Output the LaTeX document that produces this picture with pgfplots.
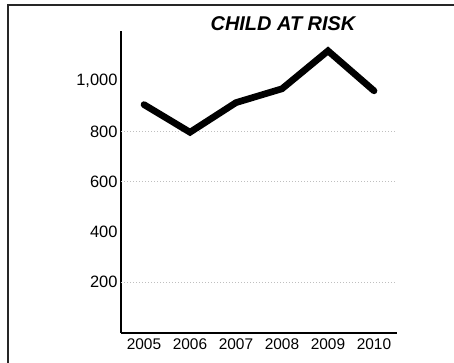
\documentclass[border=0pt]{standalone}
\usepackage{fontspec}
\setmainfont{Liberation Sans}
\usepackage{pgfplots}
\pgfplotsset{compat=1.18}
\begin{document}
\begin{tikzpicture}
\clip (0,0) rectangle (454bp,-363bp);
\fill[white] (0,0) rectangle (454bp,-363bp);
% outer frame (runs off the right and bottom edges)
\draw[line width=2bp, black!85] (8.3bp,-5bp) rectangle (480bp,-400bp);
\begin{axis}[
  at={(121bp,-332.5bp)}, anchor=south west,
  scale only axis, width=276bp, height=301.5bp,
  xmin=2004.5, xmax=2010.5, ymin=0, ymax=1200,
  axis x line*=bottom, axis y line*=left,
  x axis line style={line width=2bp},
  y axis line style={line width=1.4bp},
  xtick={2005,2006,2007,2008,2009,2010},
  xticklabels={2005,2006,2007,2008,2009,2010},
  ytick={200,400,600,800,1000},
  major tick length=0pt,
  /pgf/number format/assume math mode=true,
  x tick label style={font=\fontsize{15.5}{15.5}\selectfont, yshift=-2.5bp},
  y tick label style={font=\fontsize{16.5}{16.5}\selectfont},
  extra y ticks={200,600,800},
  extra y tick labels={},
  extra y tick style={grid=major, major grid style={black!25, dash pattern=on 1bp off 2bp, line width=0.8bp}},
  clip=false
]
\addplot[black, line width=6.7bp, line join=miter, line cap=round] coordinates {
  (2005,907) (2006,797) (2007,915) (2008,970) (2009,1121) (2010,962)
};
\end{axis}
\node[font=\fontsize{20}{20}\selectfont\bfseries\itshape] at (283bp,-24bp) {CHILD AT RISK};
\end{tikzpicture}
\end{document}
